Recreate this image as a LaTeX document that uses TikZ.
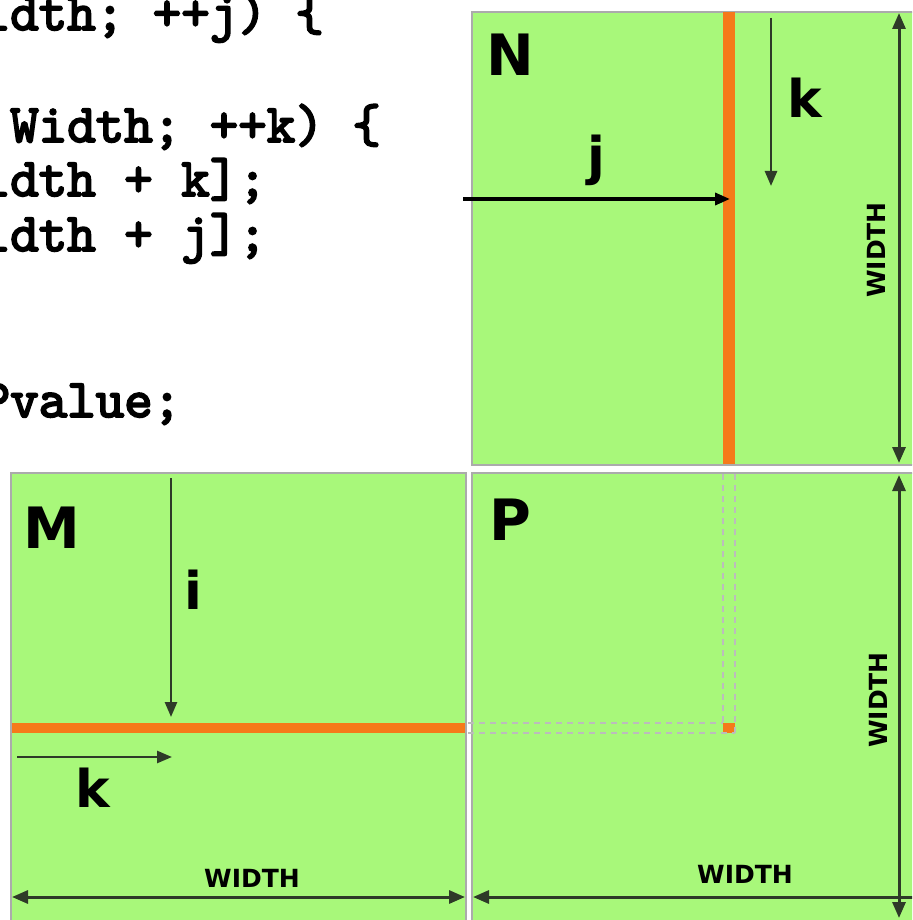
\documentclass[tikz,border=0pt]{standalone}
\usepackage{fontspec}
\setmainfont{DejaVu Sans}
\newfontfamily\codefont[FakeBold=3.5]{lmmono10-regular.otf}
\usetikzlibrary{arrows.meta}
\definecolor{matgreen}{HTML}{A8F87A}
\definecolor{rowor}{HTML}{F57A1A}
\definecolor{bordgray}{HTML}{ABABAB}
\definecolor{arrgray}{HTML}{2E3A28}
\begin{document}
\begin{tikzpicture}[x=1pt,y=-1pt,
  mat/.style={fill=matgreen,draw=bordgray,line width=2pt,inner sep=0pt,anchor=north west},
  hl/.style={fill=rowor},
  dimarrow/.style={draw=arrgray,line width=3pt,{Triangle[length=16pt,width=13pt]}-{Triangle[length=16pt,width=13pt]}},
  idx/.style={draw=black,line width=3.5pt,-{Triangle[length=15pt,width=12pt]}},
  idxthin/.style={draw=arrgray,line width=2.6pt,-{Triangle[length=15pt,width=12pt]}},
  letter/.style={font=\fontsize{57}{60}\selectfont\bfseries,inner sep=0pt},
  ilabel/.style={font=\fontsize{52}{56}\selectfont\bfseries,inner sep=0pt},
  dimlabel/.style={font=\fontsize{25}{28}\selectfont\bfseries,inner sep=0pt},
  code/.style={font=\codefont\fontsize{54.3}{56}\selectfont\frenchspacing,anchor=base west,inner sep=0pt},
  ghost/.style={draw=bordgray!80,dash pattern=on 6pt off 5pt,line width=1.2pt}
]
\useasboundingbox (0,0) rectangle (912,920);
\begin{scope}
\clip (0,0) rectangle (912,920);
\fill[white] (0,0) rectangle (912,920);
% code
\node[code] (c1) at (-18.5,30) {idth; ++j) \{};
\node[code] (c2) at (10,142) {Width; ++k) \{};
\node[code] (c3) at (-18.5,196) {idth + k];};
\node[code] (c4) at (-18.5,251) {idth + j];};
\node[code] (c5) at (-18.5,417) {Pvalue;};
% matrices
\node[mat,minimum width=460pt,minimum height=453pt] (N) at (471,11) {};
\node[mat,minimum width=460pt,minimum height=460pt] (P) at (471,472) {};
\node[mat,minimum width=455pt,minimum height=460pt] (M) at (10,472) {};
% highlighted row / column / element
\fill[hl] (723,12) rectangle (735,464);
\fill[hl] (12,723) rectangle (465,733);
\fill[hl] (723,723) rectangle (735,733);
% ghost lines in P
\draw[ghost] (723,474) -- (723,723);
\draw[ghost] (735,474) -- (735,733);
\draw[ghost] (468,723) -- (723,723);
\draw[ghost] (468,733) -- (735,733);
% labels
\node[letter] (Nl) at (510,55) {N};
\node[letter] (Ml) at (52,528) {M};
\node[letter] (Pl) at (510,520) {P};
\node[ilabel] (jl) at (596,160) {j};
\node[ilabel] (kN) at (805,98) {k};
\node[ilabel] (il) at (193,590) {i};
\node[ilabel] (kM) at (93,788) {k};
% index arrows
\coordinate (jS) at (463,199); \coordinate (jE) at (730,199);
\draw[idx] (jS) -- (jE);
\coordinate (kNS) at (771,18); \coordinate (kNE) at (771,186);
\draw[idxthin] (kNS) -- (kNE);
\coordinate (iS) at (171,478); \coordinate (iE) at (171,717);
\draw[idxthin] (iS) -- (iE);
\coordinate (kMS) at (17,757); \coordinate (kME) at (172,757);
\draw[idxthin] (kMS) -- (kME);
% dimension arrows
\coordinate (dN1) at (899,13); \coordinate (dN2) at (899,463);
\draw[dimarrow] (dN1) -- (dN2);
\coordinate (dP1) at (899,475); \coordinate (dP2) at (899,918);
\draw[dimarrow] (dP1) -- (dP2);
\coordinate (dM1) at (12,897); \coordinate (dM2) at (465,897);
\draw[dimarrow] (dM1) -- (dM2);
\coordinate (dQ1) at (473,897); \coordinate (dQ2) at (935,897);
\draw[dimarrow] (dQ1) -- (dQ2);
\node[dimlabel,rotate=90] (wN) at (876,250) {WIDTH};
\node[dimlabel,rotate=90] (wP) at (878,700) {WIDTH};
\node[dimlabel] (wM) at (252,878) {WIDTH};
\node[dimlabel] (wQ) at (745,874) {WIDTH};
\end{scope}
\end{tikzpicture}
\end{document}
